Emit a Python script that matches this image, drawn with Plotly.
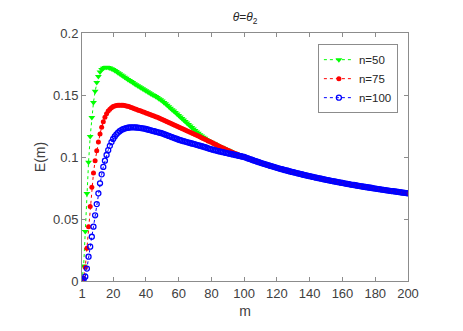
import plotly.graph_objects as go

# x axis: m = 1..200
m = list(range(1, 201))

# n=50 curve, m = 1..80
green_head = [
    0.0000, 0.0121, 0.0400, 0.0705, 0.0957, 0.1165, 0.1318, 0.1440, 0.1530, 0.1600,
    0.1650, 0.1685, 0.1705, 0.1716, 0.1721, 0.1723, 0.1722, 0.1718, 0.1712, 0.1705,
    0.1697, 0.1689, 0.1680, 0.1671, 0.1662, 0.1653, 0.1644, 0.1635, 0.1626, 0.1617,
    0.1608, 0.1600, 0.1591, 0.1583, 0.1575, 0.1567, 0.1559, 0.1551, 0.1543, 0.1535,
    0.1527, 0.1519, 0.1511, 0.1503, 0.1495, 0.1487, 0.1479, 0.1470, 0.1461, 0.1451,
    0.1440, 0.1429, 0.1418, 0.1406, 0.1394, 0.1382, 0.1370, 0.1358, 0.1346, 0.1334,
    0.1322, 0.1310, 0.1298, 0.1286, 0.1274, 0.1262, 0.1250, 0.1238, 0.1226, 0.1214,
    0.1202, 0.1191, 0.1180, 0.1170, 0.1160, 0.1151, 0.1142, 0.1134, 0.1126, 0.1118,
]

# n=75 curve, m = 1..80
red_head = [
    0.0000, 0.0025, 0.0110, 0.0264, 0.0438, 0.0600, 0.0756, 0.0870, 0.0970, 0.1050,
    0.1120, 0.1185, 0.1240, 0.1285, 0.1320, 0.1348, 0.1370, 0.1386, 0.1398, 0.1407,
    0.1412, 0.1415, 0.1417, 0.1418, 0.1418, 0.1417, 0.1415, 0.1412, 0.1409, 0.1405,
    0.1400, 0.1395, 0.1390, 0.1385, 0.1380, 0.1375, 0.1370, 0.1365, 0.1360, 0.1355,
    0.1350, 0.1345, 0.1340, 0.1335, 0.1330, 0.1325, 0.1320, 0.1314, 0.1308, 0.1302,
    0.1296, 0.1290, 0.1284, 0.1278, 0.1272, 0.1266, 0.1260, 0.1254, 0.1248, 0.1242,
    0.1236, 0.1230, 0.1224, 0.1218, 0.1212, 0.1206, 0.1200, 0.1194, 0.1188, 0.1182,
    0.1176, 0.1170, 0.1163, 0.1156, 0.1150, 0.1143, 0.1137, 0.1130, 0.1124, 0.1118,
]

# n=50 and n=75 coincide here, m = 81..100
mid = [
    0.1111, 0.1104, 0.1098, 0.1091, 0.1085, 0.1078, 0.1072, 0.1066, 0.1060, 0.1054,
    0.1048, 0.1043, 0.1037, 0.1031, 0.1026, 0.1021, 0.1015, 0.1010, 0.1005, 0.1000,
]

# n=100 curve, m = 1..100
blue_head = [
    0.0000, 0.0014, 0.0035, 0.0100, 0.0196, 0.0277, 0.0357, 0.0438, 0.0530, 0.0620,
    0.0707, 0.0788, 0.0860, 0.0920, 0.0970, 0.1016, 0.1055, 0.1090, 0.1120, 0.1145,
    0.1166, 0.1183, 0.1197, 0.1208, 0.1217, 0.1224, 0.1229, 0.1233, 0.1236, 0.1238,
    0.1239, 0.1239, 0.1239, 0.1238, 0.1237, 0.1235, 0.1233, 0.1231, 0.1229, 0.1226,
    0.1222, 0.1218, 0.1215, 0.1211, 0.1208, 0.1204, 0.1201, 0.1197, 0.1194, 0.1190,
    0.1185, 0.1180, 0.1175, 0.1170, 0.1165, 0.1160, 0.1155, 0.1150, 0.1145, 0.1140,
    0.1136, 0.1132, 0.1128, 0.1124, 0.1120, 0.1116, 0.1113, 0.1109, 0.1106, 0.1102,
    0.1098, 0.1094, 0.1091, 0.1087, 0.1083, 0.1079, 0.1075, 0.1070, 0.1066, 0.1062,
    0.1059, 0.1055, 0.1052, 0.1048, 0.1045, 0.1042, 0.1039, 0.1036, 0.1033, 0.1030,
    0.1027, 0.1024, 0.1021, 0.1018, 0.1015, 0.1012, 0.1009, 0.1006, 0.1003, 0.1000,
]

# all three curves share this tail, m = 101..200
tail = [
    0.0995, 0.0990, 0.0985, 0.0981, 0.0976, 0.0971, 0.0967, 0.0962, 0.0958, 0.0953,
    0.0949, 0.0945, 0.0941, 0.0937, 0.0933, 0.0928, 0.0925, 0.0921, 0.0917, 0.0913,
    0.0909, 0.0905, 0.0902, 0.0898, 0.0894, 0.0891, 0.0887, 0.0884, 0.0880, 0.0877,
    0.0874, 0.0870, 0.0867, 0.0864, 0.0861, 0.0857, 0.0854, 0.0851, 0.0848, 0.0845,
    0.0842, 0.0839, 0.0836, 0.0833, 0.0830, 0.0828, 0.0825, 0.0822, 0.0819, 0.0816,
    0.0814, 0.0811, 0.0808, 0.0806, 0.0803, 0.0801, 0.0798, 0.0796, 0.0793, 0.0791,
    0.0788, 0.0786, 0.0783, 0.0781, 0.0778, 0.0776, 0.0774, 0.0772, 0.0769, 0.0767,
    0.0765, 0.0762, 0.0760, 0.0758, 0.0756, 0.0754, 0.0752, 0.0750, 0.0747, 0.0745,
    0.0743, 0.0741, 0.0739, 0.0737, 0.0735, 0.0733, 0.0731, 0.0729, 0.0727, 0.0725,
    0.0724, 0.0722, 0.0720, 0.0718, 0.0716, 0.0714, 0.0712, 0.0711, 0.0709, 0.0707,
]

x_ticks = [1, 20, 40, 60, 80, 100, 120, 140, 160, 180, 200]
y_ticks = [0, 0.05, 0.1, 0.15, 0.2]
y_tick_text = ["0", "0.05", "0.1", "0.15", "0.2"]

series = [
    ("n=50", green_head + mid + tail, "#00ff00", "triangle-down", 6, 0),
    ("n=75", red_head + mid + tail, "#ff0000", "circle", 5, 0),
    ("n=100", blue_head + tail, "#0000ff", "circle-open", 5, 1.3),
]

AXIS_COL = "#8c8c8c"
TEXT_COL = "#404040"
FONT = "Liberation Sans, Arial, sans-serif"

fig = go.Figure()

for name, ys, col, sym, size, lw in series:
    fig.add_trace(go.Scatter(
        x=m, y=ys, name=name, mode="lines+markers",
        line=dict(color=col, width=1, dash="dot"),
        marker=dict(symbol=sym, size=size, color=col, line=dict(color=col, width=lw)),
    ))

# page body has an 8px margin, so the figure is 8px smaller than the window
fig.update_layout(
    width=455, height=323,
    paper_bgcolor="white", plot_bgcolor="white",
    margin=dict(l=74, r=55, t=25, b=50),
    font=dict(family=FONT, color=TEXT_COL, size=13),
    title=dict(
        text="<i>θ</i>=<i>θ</i><sub>2</sub>",
        x=0.5, xref="paper", y=0.972, yref="container",
        xanchor="center", yanchor="middle",
        font=dict(size=12, color="#262626"),
    ),
    legend=dict(
        x=0.969, y=0.955, xanchor="right", yanchor="top",
        bordercolor=AXIS_COL, borderwidth=1, bgcolor="white",
        font=dict(size=11.5, color="#262626"),
        itemwidth=30, tracegroupgap=0,
    ),
    xaxis=dict(
        range=[1, 200], tickvals=x_ticks, ticktext=[str(t) for t in x_ticks],
        showgrid=False, zeroline=False, automargin=False,
        showline=True, linecolor=AXIS_COL, linewidth=1, mirror="ticks",
        ticks="inside", ticklen=4, tickcolor=AXIS_COL,
        title=dict(text="m", standoff=6, font=dict(size=14)),
    ),
    yaxis=dict(
        range=[0, 0.2], tickvals=y_ticks, ticktext=y_tick_text,
        showgrid=False, zeroline=False, automargin=False,
        showline=True, linecolor=AXIS_COL, linewidth=1, mirror="ticks",
        ticks="inside", ticklen=4, tickcolor=AXIS_COL,
        title=dict(text="E(m)", standoff=4, font=dict(size=14)),
    ),
)

fig.write_html("out.html")
